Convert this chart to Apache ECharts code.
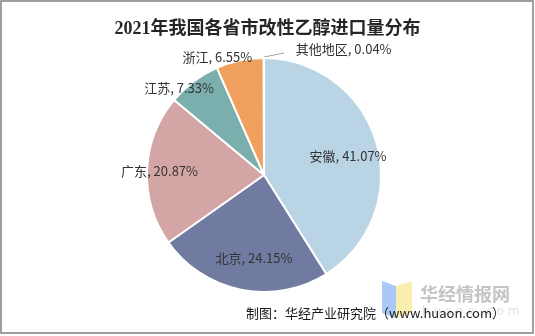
<!DOCTYPE html>
<html>
<head>
<meta charset="utf-8">
<script src="https://cdn.jsdelivr.net/npm/echarts@6/dist/echarts.min.js"></script>
<style>
  html, body { margin: 0; padding: 0; background: #fff; }
  #chart { width: 535px; height: 336px; }
</style>
</head>
<body>
<div id="chart"></div>
<script>
// 2021 modified-ethanol import share by province (percent)
const regions = ['安徽', '北京', '广东', '江苏', '浙江', '其他地区'];
const shares = [41.07, 24.15, 20.87, 7.33, 6.55, 0.04];
const sliceColors = ['#b9d4e5', '#717ba1', '#d4a5a5', '#7aafae', '#f0a05d', '#a5a5a5'];

// label nudges relative to the default anchor of each slice
const labelShift = [
  { dx: 25, dy: -2 },
  { dx: 2, dy: 23 },
  { dx: -43, dy: -1 },
  { dx: -48, dy: -38 },
  { dx: -34, dy: -58 },
  { dx: 67, dy: 6 }
];

const PIE_CENTER = [264, 175];
const PIE_RADIUS = 117;

const chart = echarts.init(document.getElementById('chart'), null, { renderer: 'canvas' });

const data = regions.map((name, i) => {
  const item = { name: name, value: shares[i], itemStyle: { color: sliceColors[i] } };
  if (name === '其他地区') {
    item.label = { position: 'outside' };
  }
  return item;
});

chart.setOption({
  animation: false,
  backgroundColor: '#ffffff',
  title: {
    text: '2021年我国各省市改性乙醇进口量分布',
    left: 'center',
    top: 15,
    textStyle: {
      fontFamily: '"Liberation Serif", "Noto Sans CJK SC", serif',
      fontSize: 18,
      fontWeight: 'bold',
      color: '#262626'
    }
  },
  graphic: [
    {
      type: 'rect',
      shape: { x: 1, y: 1, width: 532, height: 332 },
      style: { fill: 'none', stroke: '#7f7f7f', lineWidth: 1.5 },
      silent: true
    },
    // short slanted leader for the tiny slice at the top of the pie
    {
      type: 'line',
      shape: {
        x1: PIE_CENTER[0], y1: PIE_CENTER[1] - PIE_RADIUS - 1,
        x2: PIE_CENTER[0] + 20, y2: PIE_CENTER[1] - PIE_RADIUS - 5
      },
      style: { stroke: '#a6a6a6', lineWidth: 1 },
      silent: true
    },
    // watermark mark: two folded panels
    {
      type: 'polygon',
      shape: { points: [[382, 281], [396, 286], [396, 318], [382, 313]] },
      style: { fill: '#a9c9f6' },
      silent: true
    },
    {
      type: 'polygon',
      shape: { points: [[396, 286], [412, 281], [412, 313], [396, 318]] },
      style: { fill: '#fbefb0' },
      silent: true
    },
    {
      type: 'text',
      left: 420,
      top: 285,
      style: {
        text: '华经情报网',
        font: 'bold 18px "Noto Sans CJK SC", sans-serif',
        fill: '#c4c4c4'
      },
      silent: true
    },
    {
      type: 'text',
      left: 422,
      top: 306,
      style: {
        text: 'h u a o n . c o m',
        font: '12px "DejaVu Sans", sans-serif',
        fill: '#e4e4e4'
      },
      silent: true
    },
    {
      type: 'text',
      right: 30,
      top: 307,
      style: {
        text: '制图：华经产业研究院（www.huaon.com）',
        font: '13px "Noto Sans CJK SC", sans-serif',
        fill: '#1a1a1a'
      },
      silent: true
    }
  ],
  series: [{
    type: 'pie',
    center: PIE_CENTER,
    radius: [0, PIE_RADIUS],
    startAngle: 90,
    clockwise: true,
    avoidLabelOverlap: false,
    itemStyle: { borderColor: '#ffffff', borderWidth: 2 },
    label: {
      show: true,
      position: 'inside',
      formatter: p => p.name + ', ' + p.value.toFixed(2) + '%',
      fontFamily: '"Noto Sans CJK SC", sans-serif',
      fontSize: 13,
      color: '#333333'
    },
    labelLine: { show: false },
    labelLayout: function (params) {
      const s = labelShift[params.dataIndex];
      const out = { dx: s.dx, dy: s.dy };
      if (params.dataIndex === regions.length - 1) out.align = 'left';
      return out;
    },
    data: data
  }]
});
</script>
</body>
</html>
